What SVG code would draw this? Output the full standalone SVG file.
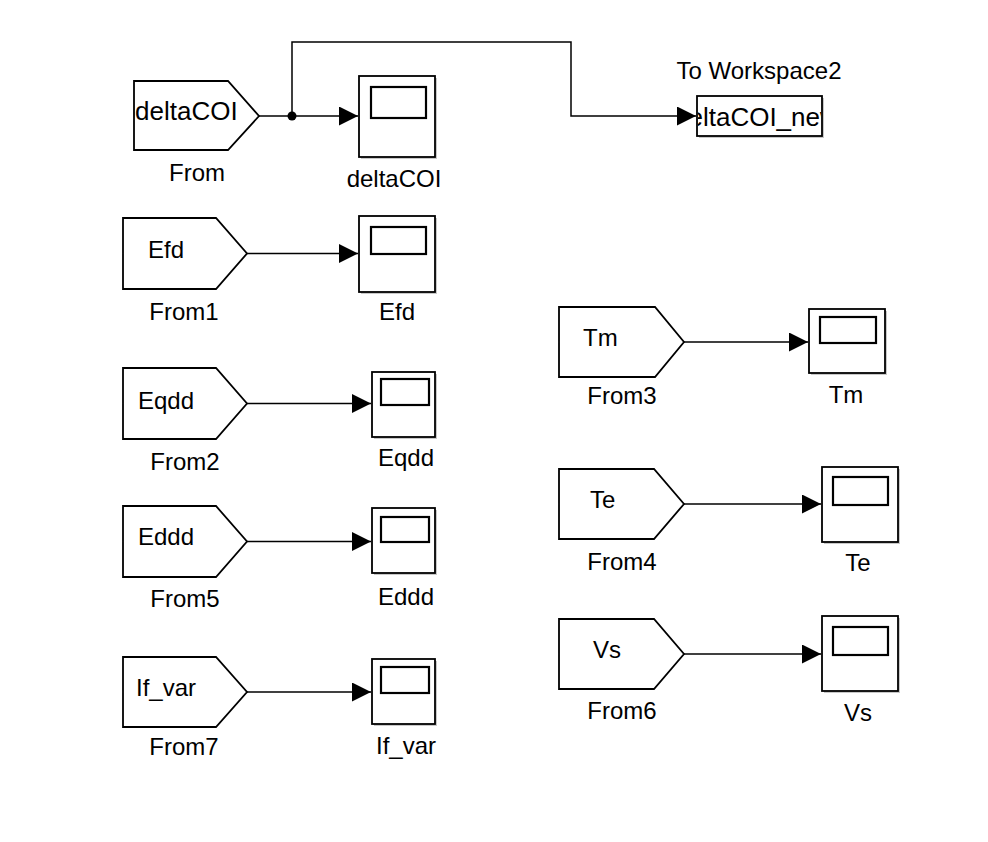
<svg xmlns="http://www.w3.org/2000/svg" width="988" height="842" viewBox="0 0 988 842">
<style>
.blk{fill:#fff;stroke:#000;stroke-width:1.8}
.shd{fill:#c8c8c8;stroke:none}
.scr{fill:#fff;stroke:#000;stroke-width:2.2}
.lbl{font-family:"Liberation Sans",Arial,sans-serif;font-size:24px;fill:#000}
.in{font-family:"Liberation Sans",Arial,sans-serif;font-size:24px;fill:#000}
.mid{text-anchor:middle}
.wire{fill:none;stroke:#000;stroke-width:1.5}
</style>
<defs>
<marker id="arr" markerUnits="userSpaceOnUse" markerWidth="20" markerHeight="20" refX="19" refY="9.5" orient="auto">
<path d="M0,0 L19,9.5 L0,19 z" fill="#000"/>
</marker>
<clipPath id="twclip"><rect x="698" y="97" width="123" height="38"/></clipPath>
</defs>
<rect width="988" height="842" fill="#fff"/>

<g id="connectors">
<path class="wire" d="M259,116 H358" marker-end="url(#arr)"/>
<path class="wire" d="M292,116 V42 H571 V116 H696" marker-end="url(#arr)"/>
<circle cx="292" cy="116" r="4.5" fill="#000"/>
<path class="wire" d="M247,253.5 H358" marker-end="url(#arr)"/>
<path class="wire" d="M247,403.5 H371" marker-end="url(#arr)"/>
<path class="wire" d="M247,541.5 H371" marker-end="url(#arr)"/>
<path class="wire" d="M247,692 H371" marker-end="url(#arr)"/>
<path class="wire" d="M684,342 H808" marker-end="url(#arr)"/>
<path class="wire" d="M684,504 H821" marker-end="url(#arr)"/>
<path class="wire" d="M684,654 H821" marker-end="url(#arr)"/>
</g>

<g id="From">
<polygon class="blk" points="134,81 228,81 259,116 228,150 134,150"/>
<text class="in" x="135" y="120" style="font-size:26px">deltaCOI</text>
<text class="lbl mid" x="197" y="181">From</text>
</g>
<g id="scope_deltaCOI">
<rect class="shd" x="361" y="78" width="76" height="81"/>
<rect class="blk" x="359" y="76" width="76" height="81"/>
<rect class="scr" x="371" y="87" width="55" height="31"/>
<text class="lbl mid" x="394" y="187">deltaCOI</text>
</g>
<g id="ToWorkspace2">
<rect class="shd" x="699" y="98" width="125" height="40"/>
<rect class="blk" x="697" y="96" width="125" height="40"/>
<text class="in" x="674" y="126" style="font-size:26px" clip-path="url(#twclip)">deltaCOI_new</text>
<text class="lbl mid" x="759" y="79">To Workspace2</text>
</g>

<g id="From1">
<polygon class="blk" points="123,218 216,218 247,253.5 216,289 123,289"/>
<text class="in" x="148" y="258">Efd</text>
<text class="lbl mid" x="184" y="320">From1</text>
</g>
<g id="scope_Efd">
<rect class="shd" x="361" y="218" width="76" height="76"/>
<rect class="blk" x="359" y="216" width="76" height="76"/>
<rect class="scr" x="371" y="227" width="55" height="27"/>
<text class="lbl mid" x="397" y="320">Efd</text>
</g>

<g id="From2">
<polygon class="blk" points="123,368 216,368 247,403.5 216,439 123,439"/>
<text class="in" x="138" y="409">Eqdd</text>
<text class="lbl mid" x="185" y="470">From2</text>
</g>
<g id="scope_Eqdd">
<rect class="shd" x="374" y="374" width="63" height="65"/>
<rect class="blk" x="372" y="372" width="63" height="65"/>
<rect class="scr" x="381" y="379" width="48" height="26"/>
<text class="lbl mid" x="406" y="466">Eqdd</text>
</g>

<g id="From5">
<polygon class="blk" points="123,506 216,506 247,541.5 216,577 123,577"/>
<text class="in" x="138" y="545">Eddd</text>
<text class="lbl mid" x="185" y="607">From5</text>
</g>
<g id="scope_Eddd">
<rect class="shd" x="374" y="510" width="63" height="65"/>
<rect class="blk" x="372" y="508" width="63" height="65"/>
<rect class="scr" x="381" y="517" width="48" height="25"/>
<text class="lbl mid" x="406" y="605">Eddd</text>
</g>

<g id="From7">
<polygon class="blk" points="123,657 216,657 247,692 216,727 123,727"/>
<text class="in" x="136" y="696">If_var</text>
<text class="lbl mid" x="184" y="755">From7</text>
</g>
<g id="scope_If_var">
<rect class="shd" x="374" y="661" width="63" height="65"/>
<rect class="blk" x="372" y="659" width="63" height="65"/>
<rect class="scr" x="381" y="667" width="48" height="26"/>
<text class="lbl mid" x="406" y="754">If_var</text>
</g>

<g id="From3">
<polygon class="blk" points="559,307 655,307 684,342 655,377 559,377"/>
<text class="in" x="583" y="346">Tm</text>
<text class="lbl mid" x="622" y="404">From3</text>
</g>
<g id="scope_Tm">
<rect class="shd" x="811" y="311" width="76" height="64"/>
<rect class="blk" x="809" y="309" width="76" height="64"/>
<rect class="scr" x="820" y="317" width="56" height="26"/>
<text class="lbl mid" x="846" y="403">Tm</text>
</g>

<g id="From4">
<polygon class="blk" points="559,469 654,469 684,504 654,539 559,539"/>
<text class="in" x="590" y="508">Te</text>
<text class="lbl mid" x="622" y="570">From4</text>
</g>
<g id="scope_Te">
<rect class="shd" x="824" y="469" width="76" height="75"/>
<rect class="blk" x="822" y="467" width="76" height="75"/>
<rect class="scr" x="833" y="477" width="55" height="28"/>
<text class="lbl mid" x="858" y="571">Te</text>
</g>

<g id="From6">
<polygon class="blk" points="559,619 654,619 684,654 654,689 559,689"/>
<text class="in" x="593" y="658">Vs</text>
<text class="lbl mid" x="622" y="719">From6</text>
</g>
<g id="scope_Vs">
<rect class="shd" x="824" y="618" width="76" height="75"/>
<rect class="blk" x="822" y="616" width="76" height="75"/>
<rect class="scr" x="833" y="627" width="55" height="28"/>
<text class="lbl mid" x="858" y="721">Vs</text>
</g>
</svg>
